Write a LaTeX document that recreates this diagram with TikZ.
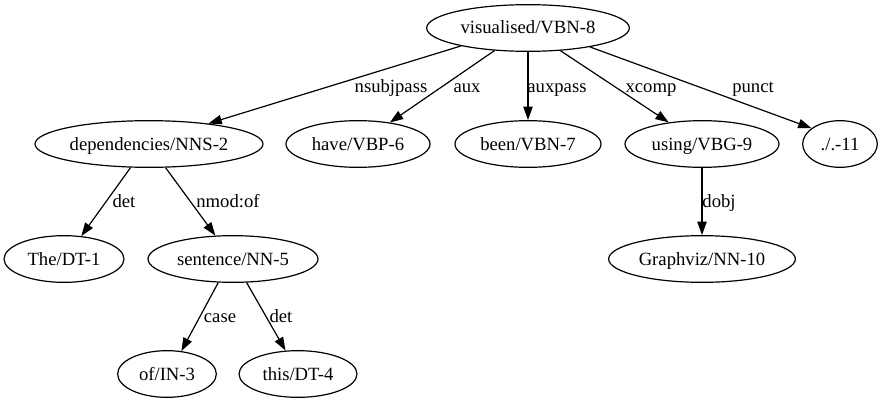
\documentclass[tikz,border=0pt]{standalone}
\usepackage{fontspec}
\setmainfont{Liberation Serif}
\usetikzlibrary{shapes.geometric,arrows.meta}

\begin{document}
\begin{tikzpicture}[
    x=0.75pt, y=-0.75pt,
    word/.style={ellipse, draw, line width=0.9pt, inner sep=0pt, minimum height=35pt, text height=9pt, text depth=0pt, font=\fontsize{14}{16}\selectfont},
    rel/.style={anchor=base, inner sep=0pt, font=\fontsize{14}{16}\selectfont},
    arrow/.style={line width=0.9pt, -{Triangle[length=10pt,width=7pt]}}
]
\useasboundingbox (0,0) rectangle (884,403);

% Root
\node[word, minimum width=152pt] (visualised) at (528,28) {visualised/VBN-8};

% Second row
\node[word, minimum width=171pt] (dependencies) at (149,144) {dependencies/NNS-2};
\node[word, minimum width=108pt] (have) at (358,144) {have/VBP-6};
\node[word, minimum width=109.5pt] (been) at (528,144) {been/VBN-7};
\node[word, minimum width=115.5pt] (using) at (702,144) {using/VBG-9};
\node[word, minimum width=56pt] (period) at (840,144) {./.-11};

% Third row
\node[word, minimum width=90pt] (the) at (64,259) {The/DT-1};
\node[word, minimum width=127.5pt] (sentence) at (233,259) {sentence/NN-5};
\node[word, minimum width=140pt] (graphviz) at (702,259) {Graphviz/NN-10};

% Fourth row
\node[word, minimum width=74pt] (of) at (167,374) {of/IN-3};
\node[word, minimum width=88.5pt] (this) at (298,374) {this/DT-4};

% Arrows from root
\draw[arrow] (visualised.195) -- (dependencies.19);
\draw[arrow] (visualised.214) -- (have.34);
\draw[arrow] (visualised) -- (been);
\draw[arrow] (visualised.325) -- (using.147);
\draw[arrow] (visualised.343) -- (period.151);

% Arrows below
\draw[arrow] (dependencies.232) -- (the.53);
\draw[arrow] (dependencies.305) -- (sentence.127);
\draw[arrow] (using) -- (graphviz);
\draw[arrow] (sentence.238) -- (of.58);
\draw[arrow] (sentence.300) -- (this.118);

% Relation labels
\node[rel] (nsubjpass) at (391,92) {nsubjpass};
\node[rel] (aux) at (467,92) {aux};
\node[rel] (auxpass) at (557,92) {auxpass};
\node[rel] (xcomp) at (651,92) {xcomp};
\node[rel] (punct) at (753,92) {punct};
\node[rel] (det1) at (124,207) {det};
\node[rel] (nmodof) at (228,207) {nmod:of};
\node[rel] (dobj) at (719,207) {dobj};
\node[rel] (case) at (220,322) {case};
\node[rel] (det2) at (281,322) {det};

\end{tikzpicture}
\end{document}
